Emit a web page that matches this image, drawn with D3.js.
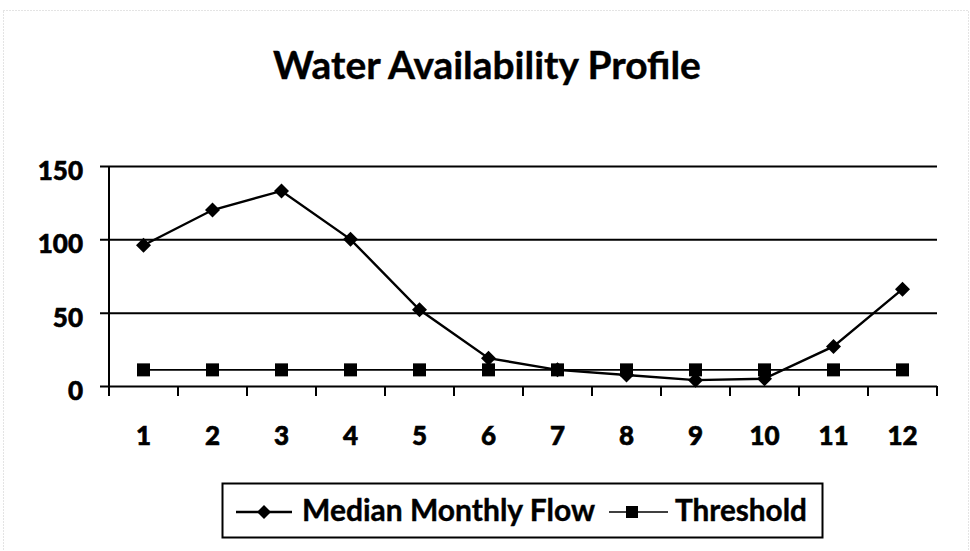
<!DOCTYPE html>
<html><head><meta charset="utf-8">
<script src="https://cdn.jsdelivr.net/npm/d3@7"></script>
<style>html,body{margin:0;padding:0;background:#fff;}</style>
</head><body>
<svg id="chart" width="970" height="551"></svg>
<script>
const months = ["1","2","3","4","5","6","7","8","9","10","11","12"];
const medianFlow = [96, 120, 133, 100, 52, 19, 11, 7.5, 4, 5, 27, 66];
const threshold = [11, 11, 11, 11, 11, 11, 11, 11, 11, 11, 11, 11];
const yTicks = [0, 50, 100, 150];
const seriesNames = ["Median Monthly Flow", "Threshold"];
const titleText = "Water Availability Profile";

(function () {
const svg = d3.select("#chart");
const FONT = "Lato, 'Open Sans', sans-serif";

// outer faint border
svg.append("rect").attr("x", 3.5).attr("y", 10.5).attr("width", 965).attr("height", 545)
  .attr("fill", "none").attr("stroke", "#c8c8c8").attr("stroke-width", 1).attr("stroke-dasharray", "1,2");

function fitText(sel, target) {
  const w = sel.node().getComputedTextLength();
  const fs = parseFloat(sel.attr("font-size"));
  if (w > 0) sel.attr("font-size", fs * target / w);
}

// title
const title = svg.append("text").attr("x", 487).attr("y", 79).attr("text-anchor", "middle")
  .attr("font-family", FONT).attr("font-weight", "bold").attr("font-size", 31).attr("fill", "#000")
  .attr("stroke", "#000").attr("stroke-width", 0.4)
  .text(titleText);
fitText(title, 428);

const pLeft = 109, pRight = 937, pTop = 166, pBottom = 386;
const x = d3.scaleBand().domain(months).range([pLeft, pRight]);
const y = d3.scaleLinear().domain([0, 150]).range([pBottom, pTop]);

// gridlines + y axis
const yAxis = d3.axisLeft(y).tickValues(yTicks).tickSize(-(pRight - pLeft)).tickSizeOuter(0).tickPadding(26);
const gy = svg.append("g").attr("transform", `translate(${pLeft},0)`).call(yAxis);
gy.select(".domain").remove();
gy.selectAll(".tick line").attr("x1", -9).attr("stroke", "#000").attr("stroke-width", 2);
gy.selectAll(".tick text").attr("font-family", FONT).attr("font-weight", 900)
  .attr("font-size", 26).attr("fill", "#000").attr("stroke", "#000").attr("stroke-width", 0.6)
  .attr("dy", "0.52em");

// y axis line
svg.append("line").attr("x1", pLeft).attr("x2", pLeft).attr("y1", pTop).attr("y2", pBottom + 10)
  .attr("stroke", "#000").attr("stroke-width", 2);

// x axis: ticks at band boundaries
const boundaries = months.map(m => x(m)).concat([pRight]);
svg.append("g").selectAll("line").data(boundaries).join("line")
  .attr("x1", d => d).attr("x2", d => d).attr("y1", pBottom).attr("y2", pBottom + 10)
  .attr("stroke", "#000").attr("stroke-width", 2);
svg.append("g").selectAll("text").data(months).join("text")
  .attr("x", d => x(d) + x.bandwidth() / 2).attr("y", 445).attr("text-anchor", "middle")
  .attr("font-family", FONT).attr("font-weight", 900).attr("font-size", 26).attr("fill", "#000")
  .attr("stroke", "#000").attr("stroke-width", 0.6)
  .text(d => d);

const cx = (d, i) => x(months[i]) + x.bandwidth() / 2;
const line = d3.line().x((d, i) => cx(d, i)).y(d => y(d));

// threshold
svg.append("path").datum(threshold).attr("d", line).attr("fill", "none")
  .attr("stroke", "#000").attr("stroke-width", 1.6);
svg.append("g").selectAll("rect").data(threshold).join("rect")
  .attr("x", (d, i) => cx(d, i) - 6.5).attr("y", d => y(d) - 6.5)
  .attr("width", 13).attr("height", 13).attr("fill", "#000");

// median flow
svg.append("path").datum(medianFlow).attr("d", line).attr("fill", "none")
  .attr("stroke", "#000").attr("stroke-width", 2.4);
svg.append("g").selectAll("path").data(medianFlow).join("path")
  .attr("d", "M0,-7.5L7.5,0L0,7.5L-7.5,0Z")
  .attr("transform", (d, i) => `translate(${cx(d, i)},${y(d)})`).attr("fill", "#000");

// legend
const lg = svg.append("g");
lg.append("rect").attr("x", 222.5).attr("y", 483.5).attr("width", 600).attr("height", 54)
  .attr("fill", "#fff").attr("stroke", "#000").attr("stroke-width", 2);
const ly = 512;
lg.append("line").attr("x1", 236).attr("x2", 292).attr("y1", ly).attr("y2", ly).attr("stroke", "#000").attr("stroke-width", 2.4);
lg.append("path").attr("d", "M0,-7L7,0L0,7L-7,0Z").attr("transform", `translate(264,${ly})`).attr("fill", "#000");
const t1 = lg.append("text").attr("x", 302).attr("y", ly + 9).attr("font-family", FONT).attr("font-weight", "bold")
  .attr("font-size", 26).attr("fill", "#000").attr("stroke", "#000").attr("stroke-width", 0.4)
  .text(seriesNames[0]);
fitText(t1, 293);
lg.append("line").attr("x1", 609).attr("x2", 668).attr("y1", ly).attr("y2", ly).attr("stroke", "#000").attr("stroke-width", 1.6);
lg.append("rect").attr("x", 632 - 6).attr("y", ly - 6).attr("width", 12).attr("height", 12).attr("fill", "#000");
const t2 = lg.append("text").attr("x", 675).attr("y", ly + 9).attr("font-family", FONT).attr("font-weight", "bold")
  .attr("font-size", 26).attr("fill", "#000").attr("stroke", "#000").attr("stroke-width", 0.4)
  .text(seriesNames[1]);
fitText(t2, 132);
})();
</script>
</body></html>
